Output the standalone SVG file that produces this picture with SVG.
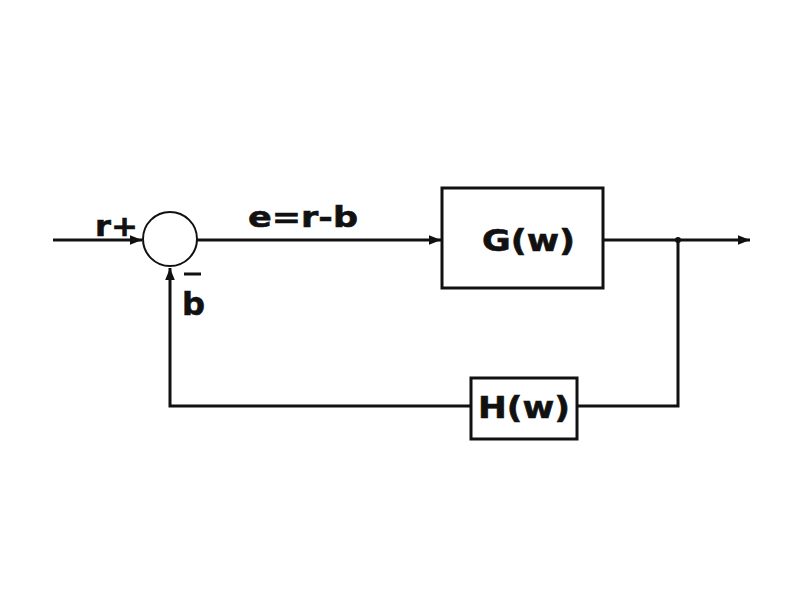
<svg xmlns="http://www.w3.org/2000/svg" width="799" height="599" viewBox="0 0 799 599">
<defs>
<style>
.ln{fill:none;stroke:#111;stroke-width:3}
.bx{fill:#fff;stroke:#111;stroke-width:3}
.t{font-family:"DejaVu Sans","Liberation Sans",sans-serif;font-weight:bold;fill:#111;stroke:#111;stroke-width:0.6}
</style>
<marker id="ah" viewBox="0 0 10 10" refX="10" refY="5" markerWidth="4" markerHeight="4" orient="auto" markerUnits="strokeWidth">
<path d="M0,1 L10,5 L0,9 Z" fill="#111"/>
</marker>
</defs>
<rect width="799" height="599" fill="#fff"/>
<g id="connectors">
<line class="ln" x1="53" y1="240" x2="142" y2="240" marker-end="url(#ah)"/>
<line class="ln" x1="197" y1="240" x2="441" y2="240" marker-end="url(#ah)"/>
<line class="ln" x1="603" y1="240" x2="750" y2="240" marker-end="url(#ah)"/>
<polyline class="ln" points="678,240 678,406 577,406"/>
<polyline class="ln" points="471,406 170,406 170,268" marker-end="url(#ah)"/>
<circle cx="678" cy="240" r="3" fill="#111"/>
</g>
<g id="sum">
<circle cx="170" cy="239" r="27" fill="#fff" stroke="#111" stroke-width="2"/>
<text class="t" x="95" y="236" font-size="29" textLength="43" lengthAdjust="spacingAndGlyphs">r+</text>
<text class="t" x="182" y="315" font-size="32" textLength="23" lengthAdjust="spacingAndGlyphs">b</text>
<line x1="184" y1="274" x2="201" y2="274" stroke="#111" stroke-width="3"/>
</g>
<g id="error-label">
<text class="t" x="248" y="227" font-size="29" textLength="110" lengthAdjust="spacingAndGlyphs">e=r-b</text>
</g>
<g id="G">
<rect class="bx" x="442" y="188" width="161" height="100"/>
<text class="t" x="482" y="251" font-size="30" textLength="93" lengthAdjust="spacingAndGlyphs">G(w)</text>
</g>
<g id="H">
<rect class="bx" x="471" y="378" width="106" height="61"/>
<text class="t" x="478" y="418" font-size="31" textLength="92" lengthAdjust="spacingAndGlyphs">H(w)</text>
</g>
</svg>
